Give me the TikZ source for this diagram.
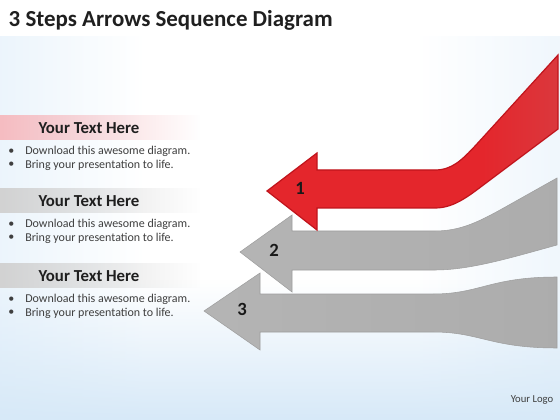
\documentclass[tikz,border=0pt]{standalone}
\usepackage{fontspec}
\setmainfont{Carlito}
\usetikzlibrary{fadings}
\definecolor{bgblue}{HTML}{C6E0F5}
\definecolor{bandpink}{HTML}{F6BCC1}
\definecolor{bandgray}{HTML}{D2D2D2}
\definecolor{arrowred}{HTML}{C0141C}
\definecolor{redtip}{HTML}{F5A5A8}
\definecolor{redmid}{HTML}{E4262C}
\definecolor{redend}{HTML}{C95A5D}
\definecolor{textgray}{HTML}{3F3F3F}
\pgfdeclarehorizontalshading{bgside}{100bp}{color(0bp)=(bgblue); color(38bp)=(white); color(62bp)=(white); color(100bp)=(bgblue!80)}
\pgfdeclarehorizontalshading{redflow}{100bp}{color(0bp)=(redtip); color(14bp)=(redmid); color(62bp)=(redmid); color(100bp)=(redend)}
\pgfdeclarehorizontalshading{grayflow}{100bp}{color(0bp)=(black!6); color(20bp)=(black!29); color(100bp)=(black!34)}

\begin{document}
\begin{tikzpicture}[x=0.75pt, y=-0.75pt,
    heading/.style={font=\bfseries\fontsize{12.6}{14}\selectfont, text=black!88},
    bullet/.style={font=\fontsize{9}{11}\selectfont, text=textgray, anchor=west, inner sep=0pt},
    stepnum/.style={font=\bfseries\fontsize{14}{16}\selectfont, text=black!90},
    redarrow/.style={draw=arrowred, line width=0.9pt, shading=redflow},
    grayarrow/.style={draw=black!38, line width=0.4pt, shading=grayflow}]
    % Background
    \useasboundingbox (0,0) rectangle (560,420);
    \fill[white] (0,0) rectangle (560,420);
    \shade[shading=bgside] (0,37) rectangle (560,420);
    \fill[bgblue!70, path fading=north] (0,280) rectangle (560,420);

    % Title
    \node[anchor=west, font=\bfseries\fontsize{17.2}{19}\selectfont, text=black!88] (title) at (4,20) {3 Steps Arrows Sequence Diagram};

    % Text panels
    \foreach \i/\y/\col in {1/128/bandpink, 2/201/bandgray, 3/276/bandgray} {
        \fill[\col, path fading=east] (0,\y-13) rectangle (200,\y+12);
        \node[heading] (head\i) at (89,\y) {Your Text Here};
        \node[bullet] (dot\i a) at (8,\y+23.5) {\textbullet};
        \node[bullet] (line\i a) at (25,\y+23.5) {Download this awesome diagram.};
        \node[bullet] (dot\i b) at (8,\y+37) {\textbullet};
        \node[bullet] (line\i b) at (25,\y+37) {Bring your presentation to life.};
    }

    % Arrow 3
    \shade[grayarrow] (204,311) -- (260,273) -- (260,294) -- (433,294)
        .. controls (480,294) and (490,277) .. (557,277) -- (557,348)
        .. controls (490,348) and (480,332) .. (433,332) -- (260,332) -- (260,350) -- cycle;

    % Arrow 2
    \shade[grayarrow] (240,252) -- (292,215) -- (292,231) -- (435,231)
        .. controls (460,231) and (478,222) .. (500,210) -- (557,178) -- (557,245)
        .. controls (510,258) and (470,270) .. (435,270) -- (292,270) -- (292,292) -- cycle;

    % Arrow 1 (red)
    \shade[redarrow] (267,191) -- (317,153) -- (317,170) -- (435,170)
        .. controls (452,170) and (462,160) .. (476,145) -- (558,55) -- (558,129)
        -- (490,180) .. controls (470,195) and (455,208) .. (435,208) -- (317,208) -- (317,230) -- cycle;

    % Step numbers
    \node[stepnum] (num1) at (300,188) {1};
    \node[stepnum] (num2) at (274,250) {2};
    \node[stepnum] (num3) at (242,309) {3};

    % Logo
    \node[font=\fontsize{8}{10}\selectfont, text=textgray] (logo) at (532,400) {Your Logo};
\end{tikzpicture}
\end{document}
